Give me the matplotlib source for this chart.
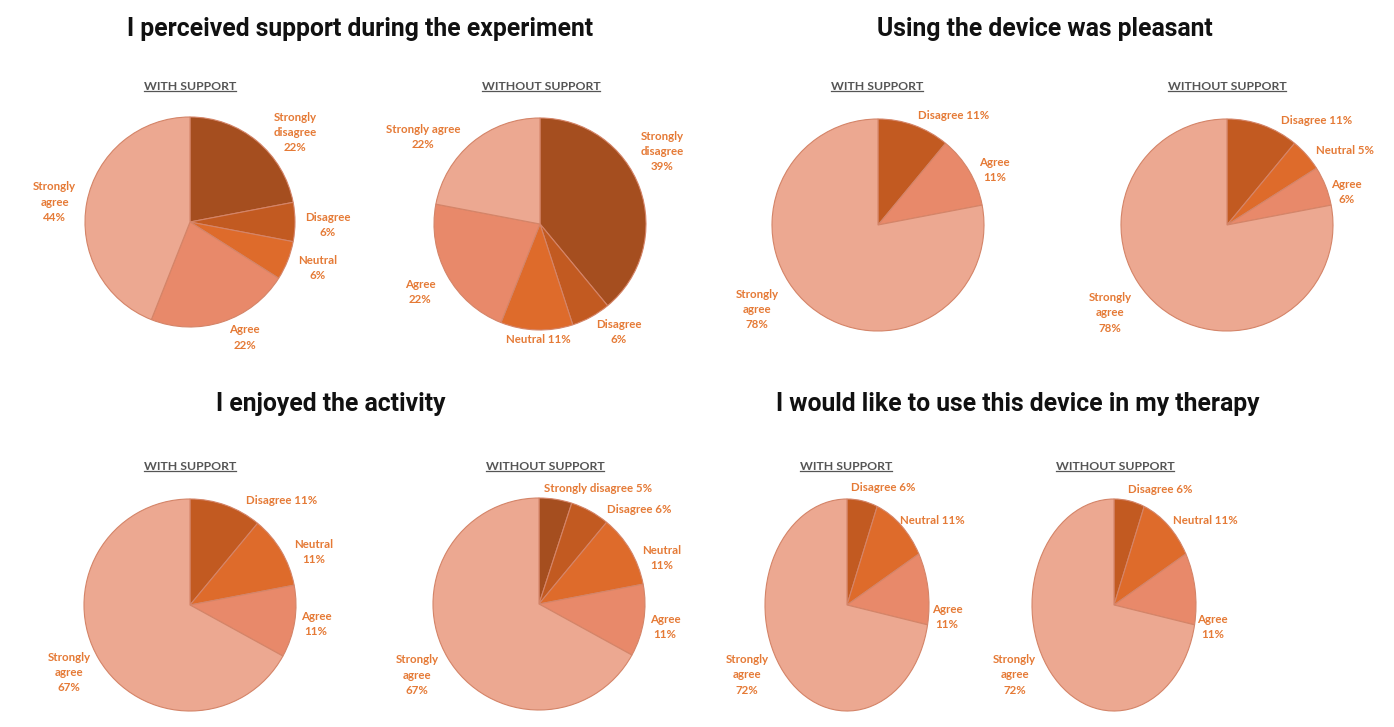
import matplotlib
matplotlib.use("Agg")
import matplotlib.pyplot as plt
from matplotlib.lines import Line2D

W, H = 1394, 727

# ---------------- data ----------------
categories = ["Strongly disagree", "Disagree", "Neutral", "Agree", "Strongly agree"]
colors = ["#A54E1F", "#C25A21", "#DE6B2B", "#E8896A", "#ECA891"]

questions = [
    "I perceived support during the experiment",
    "Using the device was pleasant",
    "I enjoyed the activity",
    "I would like to use this device in my therapy",
]
conditions = ["WITH SUPPORT", "WITHOUT SUPPORT"]

q1_with = [22, 6, 6, 22, 44]
q1_without = [39, 6, 11, 22, 22]
q2_with = [0, 11, 0, 11, 78]
q2_without = [0, 11, 5, 6, 78]
q3_with = [0, 11, 11, 11, 67]
q3_without = [5, 6, 11, 11, 67]
q4_with = [0, 6, 11, 11, 72]
q4_without = [0, 6, 11, 11, 72]

# label names (with the line-break style used in each pie)
names_q1_with = ["Strongly\ndisagree\n", "Disagree\n", "Neutral\n", "Agree\n", "Strongly\nagree\n"]
names_q1_without = ["Strongly\ndisagree\n", "Disagree\n", "Neutral ", "Agree\n", "Strongly agree\n"]
names_q2_with = ["", "Disagree ", "", "Agree\n", "Strongly\nagree\n"]
names_q2_without = ["", "Disagree ", "Neutral ", "Agree\n", "Strongly\nagree\n"]
names_q3_with = ["", "Disagree ", "Neutral\n", "Agree\n", "Strongly\nagree\n"]
names_q3_without = ["Strongly disagree ", "Disagree ", "Neutral\n", "Agree\n", "Strongly\nagree\n"]
names_q4_with = ["", "Disagree ", "Neutral ", "Agree\n", "Strongly\nagree\n"]
names_q4_without = ["", "Disagree ", "Neutral ", "Agree\n", "Strongly\nagree\n"]

pies = [
    (q1_with, names_q1_with), (q1_without, names_q1_without),
    (q2_with, names_q2_with), (q2_without, names_q2_without),
    (q3_with, names_q3_with), (q3_without, names_q3_without),
    (q4_with, names_q4_with), (q4_without, names_q4_without),
]

# ---------------- layout ----------------
# pie centre x, centre y, half-width, half-height (pixels)
pie_boxes = [
    (190, 222, 105, 105), (540, 224, 106, 106),
    (878, 225, 106, 106), (1227, 225, 106, 106),
    (190, 605, 106, 106), (539, 604, 106, 106),
    (847, 605, 82, 106), (1114, 605, 82, 106),
]
# data-label placement (in pie radius units) for each non-empty slice
label_layout = [
    [(1.00, 0.85), (1.31, -0.03), (1.22, -0.44), (0.52, -1.10), (-1.29, 0.19)],
    [(1.15, 0.68), (0.74, -1.02), (-0.02, -1.09), (-1.13, -0.64), (-1.10, 0.82)],
    [(0.71, 1.03), (1.10, 0.52), (-1.14, -0.80)],
    [(0.85, 0.99), (1.11, 0.70), (1.13, 0.31), (-1.10, -0.83)],
    [(0.86, 0.99), (1.17, 0.50), (1.19, -0.18), (-1.14, -0.64)],
    [(0.56, 1.09), (0.95, 0.89), (1.16, 0.43), (1.19, -0.22), (-1.15, -0.67)],
    [(0.44, 1.11), (1.04, 0.80), (1.22, -0.11), (-1.22, -0.66)],
    [(0.56, 1.09), (1.11, 0.80), (1.20, -0.21), (-1.21, -0.66)],
]
# title centre x, baseline y (pixels)
title_pos = [(360, 36), (1045, 36), (331, 411), (1018, 411)]
sub_pos = [(190, 86), (541, 86), (877, 86), (1227, 86),
           (190, 466), (545, 466), (846, 466), (1115, 466)]

label_color = "#E57A36"
edge_color = "#D48468"

fig = plt.figure(figsize=(W / 100, H / 100), dpi=100)
fig.patch.set_facecolor("white")


def fx(px):
    return px / W


def fy(py):
    return 1 - py / H


for (vals, names), (cx, cy, rx, ry), lay in zip(pies, pie_boxes, label_layout):
    ax = fig.add_axes([fx(cx - rx), fy(cy + ry), 2 * rx / W, 2 * ry / H])
    keep = [i for i, v in enumerate(vals) if v > 0]
    v = [vals[i] for i in keep]
    c = [colors[i] for i in keep]
    labs = [f"{names[i]}{vals[i]}%" for i in keep]
    ax.pie(v, colors=c, startangle=90, counterclock=False, radius=1,
           wedgeprops=dict(edgecolor=edge_color, linewidth=0.8))
    for lab, (dx, dy) in zip(labs, lay):
        ax.text(dx, dy, lab, ha="center", va="center", multialignment="center",
                color=label_color, fontsize=8.3, fontweight="bold",
                family="Lato", linespacing=1.45, clip_on=False)
    ax.set_aspect("auto")
    ax.set_xlim(-1, 1)
    ax.set_ylim(-1, 1)
    ax.axis("off")

for q, (x, y) in zip(questions, title_pos):
    fig.text(fx(x), fy(y), q, ha="center", va="baseline", fontsize=17.8,
             fontweight="bold", color="#111111", family="Roboto")

subs = []
for i, (x, y) in enumerate(sub_pos):
    t = fig.text(fx(x), fy(y), conditions[i % 2], ha="center", va="center",
                 fontsize=8.8, fontweight="bold", color="#555555", family="Lato")
    subs.append(t)

fig.canvas.draw()
r = fig.canvas.get_renderer()
for t in subs:
    bb = t.get_window_extent(renderer=r)
    yline = bb.y0 + 1
    fig.add_artist(Line2D([bb.x0 / W, bb.x1 / W], [yline / H, yline / H],
                          transform=fig.transFigure, color="#555555", lw=0.9))

fig.savefig("out.png", dpi=100, facecolor="white")
